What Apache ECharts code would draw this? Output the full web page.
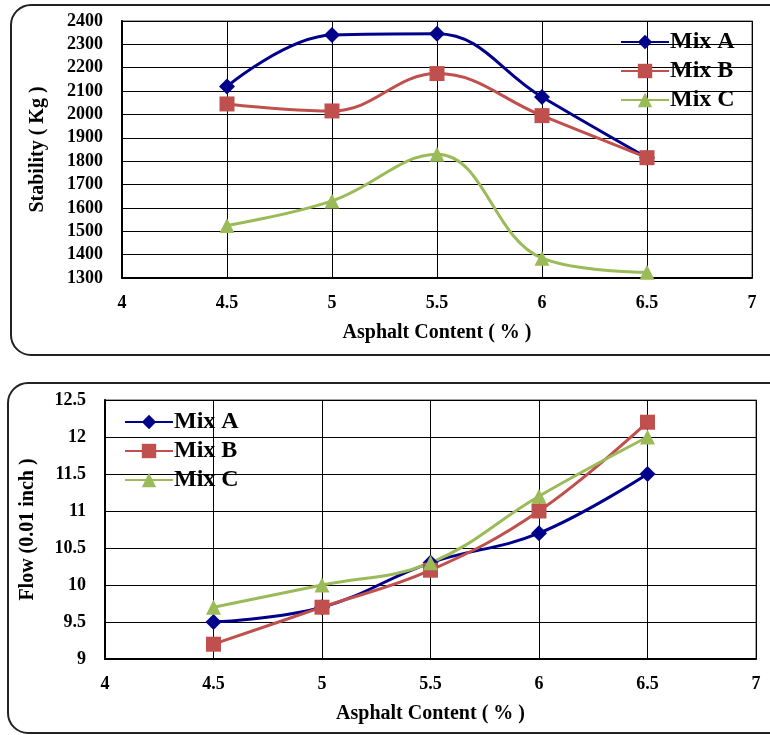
<!DOCTYPE html>
<html>
<head>
<meta charset="utf-8">
<script src="https://cdn.jsdelivr.net/npm/echarts@6/dist/echarts.min.js"></script>
<style>
html,body{margin:0;padding:0;background:#fff;}
#c{width:770px;height:735px;}
</style>
</head>
<body>
<div id="c"></div>
<script>
// ---- data ----
const asphalt = [4.5, 5, 5.5, 6, 6.5];
const seriesNames = ['Mix A', 'Mix B', 'Mix C'];
const stabilityA = [2120, 2340, 2345, 2075, 1815];
const stabilityB = [2045, 2015, 2175, 1995, 1815];
const stabilityC = [1525, 1630, 1830, 1385, 1325];
const flowA = [9.5, 9.7, 10.3, 10.7, 11.5];
const flowB = [9.2, 9.7, 10.2, 11.0, 12.2];
const flowC = [9.7, 10.0, 10.3, 11.2, 12.0];
const xTitle = 'Asphalt Content ( % )';
const yTitleTop = 'Stability ( Kg )';
const yTitleBottom = 'Flow (0.01 inch )';

const colors = ['#00008B', '#C0504D', '#9BBB59'];
const symbols = ['diamond', 'rect', 'triangle'];
const symbolSizes = [16, 15, 15];
const FONT = '"Liberation Serif", "Times New Roman", serif';

function pairs(vals){ return asphalt.map((x,i)=>[x, vals[i]]); }

function mkSeries(name, idx, vals, grid){
  return {
    name: name, type: 'line', xAxisIndex: grid, yAxisIndex: grid,
    data: pairs(vals), smooth: 0.4,
    symbol: symbols[idx], symbolSize: symbolSizes[idx],
    lineStyle: {color: colors[idx], width: 3},
    itemStyle: {color: colors[idx]},
    emphasis: {disabled: true}
  };
}

const labelStyle = {color:'#000', fontFamily: FONT, fontWeight:'bold', fontSize:18, formatter: v => String(v)};
const nameStyle = {color:'#000', fontFamily: FONT, fontWeight:'bold', fontSize:20};

function xAxis(grid){
  return {
    type:'value', gridIndex: grid, min:4, max:7, interval:0.5,
    axisLine:{show:true, onZero:false, lineStyle:{color:'#000', width:2}},
    axisTick:{show:false},
    axisLabel:Object.assign({margin:16}, labelStyle),
    splitLine:{show:true, lineStyle:{color:'#000', width:1}},
    name: xTitle, nameLocation:'middle', nameGap:45, nameTextStyle: nameStyle
  };
}
function yAxis(grid, min, max, interval, title, gap){
  return {
    type:'value', gridIndex: grid, min:min, max:max, interval:interval,
    axisLine:{show:true, onZero:false, lineStyle:{color:'#000', width:2}},
    axisTick:{show:false},
    axisLabel:Object.assign({margin:19}, labelStyle),
    splitLine:{show:true, lineStyle:{color:'#000', width:1}},
    name: title, nameLocation:'middle', nameRotate:90, nameGap:gap, nameTextStyle: nameStyle
  };
}

const legendText = {color:'#000', fontFamily:FONT, fontWeight:'bold', fontSize:24, lineHeight:21, padding:[0,0,0,-4]};

const chart = echarts.init(document.getElementById('c'), null, {renderer:'canvas'});
chart.setOption({
  animation:false,
  backgroundColor:'#fff',
  graphic:[
    {type:'rect', shape:{x:11, y:5, width:780, height:350, r:20}, style:{fill:'none', stroke:'#222', lineWidth:2}, z:-1},
    {type:'rect', shape:{x:8, y:383, width:783, height:350, r:20}, style:{fill:'none', stroke:'#222', lineWidth:2}, z:-1}
  ],
  grid:[
    {left:122, top:21, width:630, height:257, show:true, borderColor:'#888', borderWidth:1.5},
    {left:105, top:400, width:651, height:259, show:true, borderColor:'#888', borderWidth:1.5}
  ],
  xAxis:[xAxis(0), xAxis(1)],
  yAxis:[
    yAxis(0, 1300, 2400, 100, yTitleTop, 74),
    yAxis(1, 9, 12.5, 0.5, yTitleBottom, 67)
  ],
  legend:[
    {data:seriesNames, orient:'vertical', left:615, top:25, itemWidth:48, itemHeight:18, itemGap:5,
     selectedMode:false, textStyle:legendText},
    {data:seriesNames, orient:'vertical', left:119, top:405, itemWidth:48, itemHeight:18, itemGap:5,
     selectedMode:false, textStyle:legendText}
  ],
  series:[
    mkSeries('Mix A', 0, stabilityA, 0),
    mkSeries('Mix B', 1, stabilityB, 0),
    mkSeries('Mix C', 2, stabilityC, 0),
    mkSeries('Mix A', 0, flowA, 1),
    mkSeries('Mix B', 1, flowB, 1),
    mkSeries('Mix C', 2, flowC, 1)
  ]
});
</script>
</body>
</html>
